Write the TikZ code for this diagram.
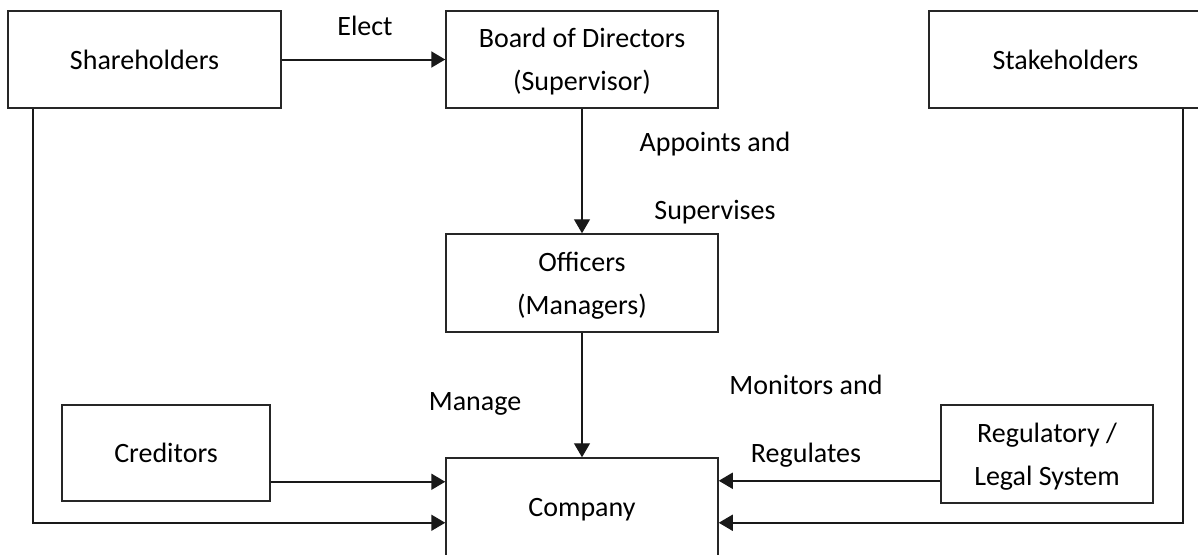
\documentclass[tikz,border=0pt]{standalone}
\usepackage{fontspec}
\setmainfont{Carlito}
\usetikzlibrary{arrows.meta,calc}

\begin{document}
\begin{tikzpicture}[x=0.5pt, y=-0.5pt,
  box/.style={draw=black!85, line width=0.75pt, minimum height=48.5pt, inner sep=0pt,
    text depth=0pt, align=center, font=\fontsize{14}{21.5}\selectfont},
  lbl/.style={align=center, font=\fontsize{14}{34}\selectfont},
  harrow/.style={-{Triangle[length=7pt,width=8pt]}, line width=1pt, black!90},
  varrow/.style={-{Triangle[length=7pt,width=8pt]}, line width=0.65pt, black!90}]

  \useasboundingbox (0,0) rectangle (1198,554);

  % Top row
  \node[box, minimum width=136.5pt] (share) at (144.5,59.5) {Shareholders};
  \node[box, minimum width=136pt] (board) at (582,59.5) {Board of Directors\\(Supervisor)};
  \node[box, minimum width=136.5pt] (stake) at (1065.5,59.5) {Stakeholders};

  % Middle and bottom
  \node[box, minimum width=136pt, minimum height=49pt] (officers) at (582,283) {Officers\\(Managers)};
  \node[box, minimum width=136pt, minimum height=49pt] (company) at (582,507) {Company};
  \node[box, minimum width=104pt, minimum height=48pt] (creditors) at (166,453) {Creditors};
  \node[box, minimum width=106pt, minimum height=49pt] (regulatory) at (1047,454) {Regulatory /\\Legal System};

  % Labels
  \node[lbl] (elect) at (365,26) {Elect};
  \node[lbl] (appoints) at (715,178) {Appoints and\\Supervises};
  \node[lbl] (manage) at (475,404) {Manage};
  \node[lbl] (monitors) at (806,421) {Monitors and\\Regulates};

  % Helper points
  \coordinate (cr) at ($(creditors.south east)+(0,-20)$);
  \coordinate (rg) at ($(regulatory.south west)+(0,-23)$);
  \coordinate (sb) at ($(share.south west)+(26,0)$);
  \coordinate (tb) at ($(stake.south east)+(-20,0)$);
  \coordinate (low) at ($(company.south west)+(0,-34)$);

  % Arrows
  \draw[harrow] (share.east) -- (board.west);
  \draw[varrow] (board.south) -- (officers.north);
  \draw[varrow] (officers.south) -- (company.north);
  \draw[harrow] (cr) -- (cr -| company.west);
  \draw[harrow] (rg) -- (rg -| company.east);
  \draw[harrow, line width=0.9pt] (sb) |- (low);
  \draw[harrow, line width=0.9pt] (tb) |- (low -| company.east);

\end{tikzpicture}
\end{document}
